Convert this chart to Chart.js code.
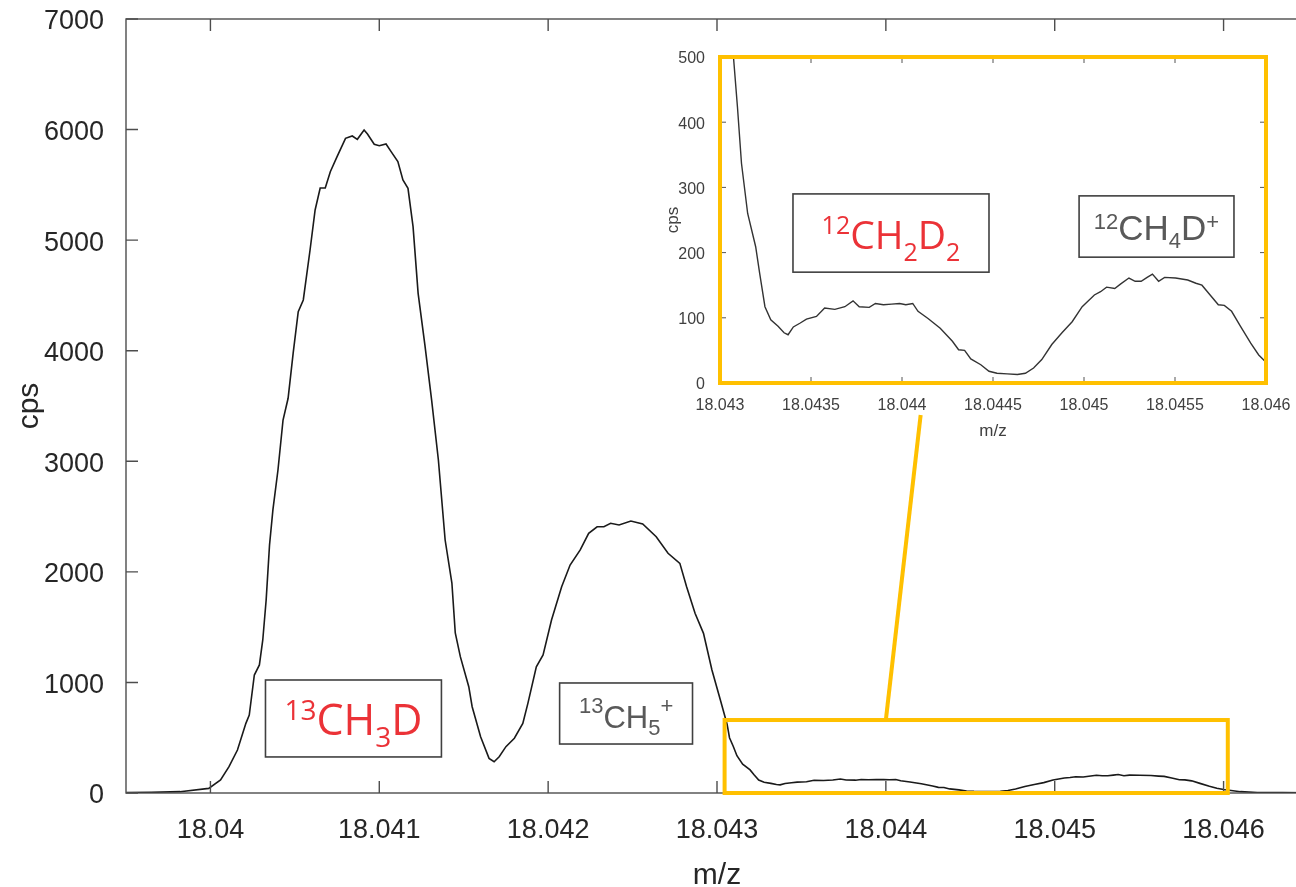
<!DOCTYPE html>
<html>
<head>
<meta charset="utf-8">
<script src="https://cdn.jsdelivr.net/npm/chart.js@4.4.0/dist/chart.umd.min.js"></script>
<style>
  html, body { margin: 0; padding: 0; background: #fff; overflow: hidden; }
  #wrap { position: relative; width: 1296px; height: 887px; overflow: hidden; }
  #main { position: absolute; left: 0; top: 0; }
  #inset { position: absolute; left: 650px; top: 40px; }
</style>
</head>
<body>
<div id="wrap">
  <canvas id="main" width="1320" height="894"></canvas>
  <canvas id="inset" width="650" height="410"></canvas>
</div>
<script>
// spectrum (m/z, counts per second)
const mz = [
  18.0395, 18.03965, 18.03982, 18.03999, 18.04006, 18.04011, 18.04016, 18.04021, 18.04023, 18.04026,
  18.04029, 18.04031, 18.04033, 18.04035, 18.04037, 18.0404, 18.04043, 18.04046, 18.04049, 18.04052,
  18.04055, 18.04059, 18.04062, 18.04065, 18.04068, 18.04071, 18.04075, 18.0408, 18.04084, 18.04087,
  18.04091, 18.04093, 18.04097, 18.041, 18.04104, 18.04107, 18.04111, 18.04114, 18.04117, 18.0412,
  18.04123, 18.04127, 18.04131, 18.04135, 18.04139, 18.04143, 18.04145, 18.04148, 18.04153, 18.04155,
  18.0416, 18.04165, 18.04168, 18.04171, 18.04175, 18.0418, 18.04185, 18.04188, 18.04193, 18.04197,
  18.04202, 18.04208, 18.04213, 18.04219, 18.04224, 18.04229, 18.04233, 18.04237, 18.04242, 18.04249,
  18.04256, 18.04264, 18.04271, 18.04278, 18.04282, 18.04287, 18.04292, 18.04297, 18.04302, 18.04306,
  18.043074, 18.043096, 18.043118, 18.043152, 18.043196, 18.043218, 18.043247, 18.043279, 18.043319, 18.043352,
  18.043374, 18.043403, 18.043441, 18.043475, 18.04353, 18.043575, 18.043631, 18.043686, 18.043731, 18.043765,
  18.04382, 18.043854, 18.043898, 18.043943, 18.043987, 18.044021, 18.044059, 18.044088, 18.044143, 18.04421,
  18.044277, 18.044311, 18.044344, 18.044378, 18.044433, 18.044478, 18.044522, 18.044578, 18.044634, 18.044678,
  18.044723, 18.044768, 18.044823, 18.044879, 18.044935, 18.04499, 18.045057, 18.045091, 18.045124, 18.045169,
  18.045202, 18.045247, 18.045281, 18.045314, 18.045347, 18.045376, 18.04541, 18.045443, 18.045503, 18.04557,
  18.045615, 18.045648, 18.045693, 18.045738, 18.045771, 18.045811, 18.04586, 18.045916, 18.04596, 18.046,
  18.0461, 18.0462, 18.04635, 18.0465
]
const cps = [
  3, 6, 12, 42, 118, 238, 389, 630, 705, 1067,
  1158, 1384, 1745, 2243, 2560, 2921, 3373, 3570, 3979, 4353,
  4459, 4911, 5273, 5472, 5472, 5619, 5755, 5921, 5942, 5912,
  5996, 5960, 5867, 5854, 5870, 5800, 5710, 5545, 5469, 5122,
  4519, 4052, 3554, 3012, 2288, 1899, 1447, 1233, 961, 780,
  509, 313, 283, 328, 419, 495, 630, 811, 1142, 1248,
  1565, 1866, 2062, 2198, 2349, 2408, 2408, 2439, 2424, 2460,
  2433, 2318, 2168, 2077, 1866, 1625, 1444, 1112, 841, 620,
  500, 423, 337, 260, 209, 168, 117, 97, 87, 77,
  74, 86, 92, 98, 102, 115, 113, 117, 126, 117,
  116, 122, 120, 121, 122, 120, 122, 110, 99, 84,
  64, 51, 50, 37, 28, 18, 15, 14, 13, 15,
  23, 36, 59, 77, 94, 117, 135, 140, 147, 145,
  152, 161, 156, 156, 162, 167, 156, 162, 161, 158,
  153, 150, 135, 120, 119, 110, 87, 61, 43, 32,
  12, 5, 3, 2
]

const mainXTicks = [18.04, 18.041, 18.042, 18.043, 18.044, 18.045, 18.046]
const mainXLabels = ['18.04', '18.041', '18.042', '18.043', '18.044', '18.045', '18.046']
const mainYTicks = [0, 1000, 2000, 3000, 4000, 5000, 6000, 7000]

const insetXTicks = [18.043, 18.0435, 18.044, 18.0445, 18.045, 18.0455, 18.046]
const insetXLabels = ['18.043', '18.0435', '18.044', '18.0445', '18.045', '18.0455', '18.046']
const insetYTicks = [0, 100, 200, 300, 400, 500]

const points = mz.map((x, i) => ({ x: x, y: cps[i] }))

const SANS = "'Liberation Sans', Arial, sans-serif"
const RED = '#eb3237'
const GREY = '#595959'
const GOLD = '#ffc000'

// draws text with sup / sub parts, centred on cx
function drawRich(ctx, parts, cx, baseY, st) {
  let total = 0
  const items = parts.map((p) => {
    const size = p.k ? st.small : st.big
    const font = size + 'px ' + st.family
    ctx.font = font
    const w = ctx.measureText(p.t).width
    total += w
    return { t: p.t, k: p.k, font: font, w: w }
  })
  let x = cx - total / 2
  ctx.fillStyle = st.color
  ctx.textBaseline = 'alphabetic'
  ctx.textAlign = 'left'
  items.forEach((it) => {
    ctx.font = it.font
    let dy = 0
    if (it.k === 'sup') dy = -st.rise
    if (it.k === 'sub') dy = st.drop
    ctx.fillText(it.t, x, baseY + dy)
    x += it.w
  })
}

// no extra room for the end labels, the box is fixed
function noPad(s) {
  s.paddingTop = 0
  s.paddingBottom = 0
  s.paddingLeft = 0
  s.paddingRight = 0
}

// MATLAB style box with inward ticks
const boxTicks = {
  id: 'boxTicks',
  afterDraw(chart, args, opts) {
    const { ctx, chartArea: a, scales } = chart
    const L = opts.len
    ctx.save()
    ctx.strokeStyle = opts.color
    ctx.lineWidth = opts.width
    ctx.beginPath()
    scales.x.ticks.forEach((t) => {
      const px = scales.x.getPixelForValue(t.value)
      ctx.moveTo(px, a.bottom)
      ctx.lineTo(px, a.bottom - L)
      ctx.moveTo(px, a.top)
      ctx.lineTo(px, a.top + L)
    })
    scales.y.ticks.forEach((t) => {
      const py = scales.y.getPixelForValue(t.value)
      ctx.moveTo(a.left, py)
      ctx.lineTo(a.left + L, py)
      ctx.moveTo(a.right, py)
      ctx.lineTo(a.right - L, py)
    })
    ctx.stroke()
    ctx.strokeRect(a.left, a.top, a.right - a.left, a.bottom - a.top)
    ctx.restore()
  },
}

// label boxes, zoom rectangle and zoom line (positions in data units)
const notes = {
  id: 'notes',
  afterDraw(chart, args, opts) {
    const { ctx, scales } = chart
    const X = (v) => scales.x.getPixelForValue(v)
    const Y = (v) => scales.y.getPixelForValue(v)
    ctx.save()
    ;(opts.labels || []).forEach((lb) => {
      const x1 = X(lb.x1), x2 = X(lb.x2), y1 = Y(lb.top), y2 = Y(lb.bottom)
      ctx.strokeStyle = '#404040'
      ctx.lineWidth = 1.6
      ctx.strokeRect(x1, y1, x2 - x1, y2 - y1)
      drawRich(ctx, lb.parts, (x1 + x2) / 2, Y(lb.base), lb.style)
    })
    ctx.strokeStyle = GOLD
    ctx.lineWidth = 4
    if (opts.frame) {
      const a = chart.chartArea
      ctx.strokeRect(a.left, a.top, a.right - a.left, a.bottom - a.top)
    }
    if (opts.rect) {
      const r = opts.rect
      ctx.strokeRect(X(r.x1), Y(r.top), X(r.x2) - X(r.x1), Y(r.bottom) - Y(r.top))
    }
    if (opts.line) {
      const l = opts.line
      ctx.beginPath()
      ctx.moveTo(X(l.x1), Y(l.y1))
      ctx.lineTo(X(l.x2), Y(l.y2))
      ctx.stroke()
    }
    ctx.restore()
  },
}

Chart.defaults.font.family = SANS

new Chart(document.getElementById('main'), {
  type: 'line',
  data: {
    datasets: [{
      data: points,
      borderColor: '#1a1a1a',
      borderWidth: 1.6,
      pointRadius: 0,
      tension: 0,
      fill: false,
    }],
  },
  options: {
    responsive: false,
    animation: false,
    layout: { padding: { top: 19, right: 12, left: 0, bottom: 0 } },
    plugins: {
      legend: { display: false },
      tooltip: { enabled: false },
      boxTicks: { len: 12, color: '#4d4d4d', width: 1.4 },
      notes: {
        labels: [
          {
            x1: 18.040326, x2: 18.041368, top: 1022, bottom: 326, base: 525,
            parts: [{ t: '13', k: 'sup' }, { t: 'CH' }, { t: '3', k: 'sub' }, { t: 'D' }],
            style: { family: "'Open Sans', 'Noto Sans', sans-serif", big: 43, small: 28, rise: 15, drop: 12, color: RED },
          },
          {
            x1: 18.042068, x2: 18.042855, top: 995, bottom: 443, base: 588,
            parts: [{ t: '13', k: 'sup' }, { t: 'CH' }, { t: '5', k: 'sub' }, { t: '+', k: 'sup' }],
            style: { family: SANS, big: 31, small: 22, rise: 15, drop: 7, color: GREY },
          },
        ],
        rect: { x1: 18.043045, x2: 18.046025, top: 660, bottom: 0 },
        line: { x1: 18.044, y1: 660, x2: 18.044206, y2: 3419 },
      },
    },
    scales: {
      x: {
        type: 'linear',
        min: 18.0395,
        max: 18.0465,
        afterBuildTicks: (s) => { s.ticks = mainXTicks.map((v) => ({ value: v })) },
        afterFit: (s) => { s.height = 101; noPad(s) },
        ticks: {
          callback: (v, i) => mainXLabels[i],
          font: { size: 27 },
          color: '#262626',
          padding: 13,
          maxRotation: 0,
          autoSkip: false,
        },
        grid: { display: false },
        border: { display: false },
        title: { display: true, text: 'm/z', font: { size: 30 }, color: '#262626', padding: { top: 0, bottom: 0 } },
      },
      y: {
        min: 0,
        max: 7000,
        afterBuildTicks: (s) => { s.ticks = mainYTicks.map((v) => ({ value: v })) },
        afterFit: (s) => { s.width = 126; noPad(s) },
        ticks: { callback: (v) => String(v), font: { size: 27 }, color: '#262626', padding: 14, labelOffset: 3 },
        grid: { display: false },
        border: { display: false },
        title: { display: true, text: 'cps', font: { size: 30 }, color: '#262626', padding: { top: 12, bottom: 0 } },
      },
    },
  },
  plugins: [boxTicks, notes],
})

new Chart(document.getElementById('inset'), {
  type: 'line',
  data: {
    datasets: [{
      data: points,
      borderColor: '#333333',
      borderWidth: 1.4,
      pointRadius: 0,
      tension: 0,
      fill: false,
    }],
  },
  options: {
    responsive: false,
    animation: false,
    layout: { padding: { top: 17, right: 34, left: 0, bottom: 0 } },
    plugins: {
      legend: { display: false },
      tooltip: { enabled: false },
      boxTicks: { len: 6, color: '#555555', width: 1 },
      notes: {
        frame: true,
        labels: [
          {
            x1: 18.043401, x2: 18.044478, top: 290, bottom: 170, base: 205.5,
            parts: [{ t: '12', k: 'sup' }, { t: 'CH' }, { t: '2', k: 'sub' }, { t: 'D' }, { t: '2', k: 'sub' }],
            style: { family: "'Open Sans', 'Noto Sans', sans-serif", big: 39, small: 25, rise: 15, drop: 12, color: RED },
          },
          {
            x1: 18.044973, x2: 18.045824, top: 287, bottom: 193, base: 219,
            parts: [{ t: '12', k: 'sup' }, { t: 'CH' }, { t: '4', k: 'sub' }, { t: 'D' }, { t: '+', k: 'sup' }],
            style: { family: SANS, big: 35, small: 22, rise: 11, drop: 8, color: GREY },
          },
        ],
      },
    },
    scales: {
      x: {
        type: 'linear',
        min: 18.043,
        max: 18.046,
        afterBuildTicks: (s) => { s.ticks = insetXTicks.map((v) => ({ value: v })) },
        afterFit: (s) => { s.height = 67; noPad(s) },
        ticks: {
          callback: (v, i) => insetXLabels[i],
          font: { size: 16 },
          color: '#404040',
          padding: 5,
          maxRotation: 0,
          autoSkip: false,
        },
        grid: { display: false },
        border: { display: false },
        title: { display: true, text: 'm/z', font: { size: 17 }, color: '#404040', padding: { top: 0, bottom: 8 } },
      },
      y: {
        min: 0,
        max: 500,
        afterBuildTicks: (s) => { s.ticks = insetYTicks.map((v) => ({ value: v })) },
        afterFit: (s) => { s.width = 70; noPad(s) },
        ticks: { callback: (v) => String(v), font: { size: 16 }, color: '#404040', padding: 7, labelOffset: 2 },
        grid: { display: false },
        border: { display: false },
        title: { display: true, text: 'cps', font: { size: 17 }, color: '#404040', padding: { top: 13, bottom: 0 } },
      },
    },
  },
  plugins: [boxTicks, notes],
})
</script>
</body>
</html>
